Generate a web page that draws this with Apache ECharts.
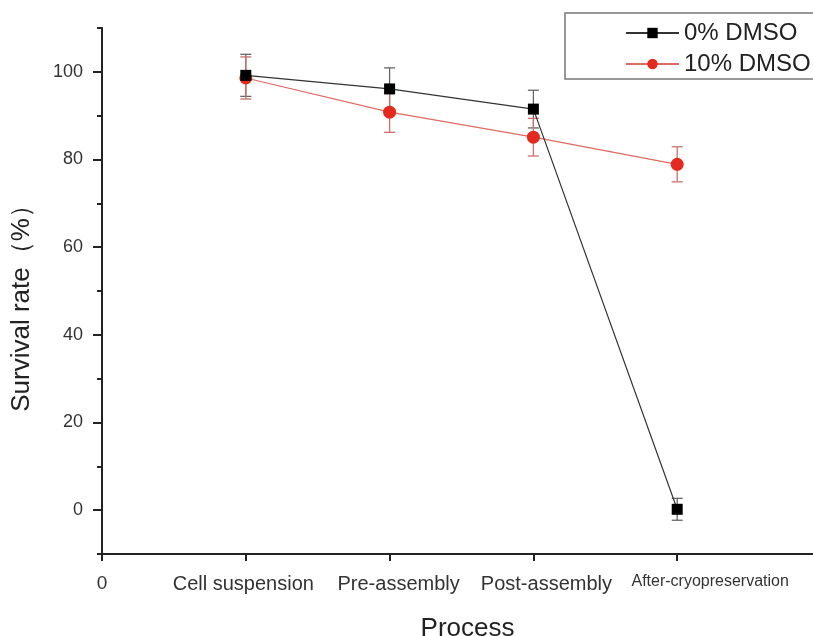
<!DOCTYPE html>
<html>
<head>
<meta charset="utf-8">
<script src="https://cdn.jsdelivr.net/npm/echarts@6/dist/echarts.min.js"></script>
<style>
  html, body { margin: 0; padding: 0; background: #fff; }
  #main { width: 813px; height: 636px; }
</style>
</head>
<body>
<div id="main"></div>
<script>
// x positions of the four process steps (0 is the axis origin)
var xLabels = ['0', 'Cell suspension', 'Pre-assembly', 'Post-assembly', 'After-cryopreservation'];
var xTicks = [0, 1, 2, 3, 4];

var yMajorTicks = [0, 20, 40, 60, 80, 100];
var yMinorTicks = [-10, 10, 30, 50, 70, 90, 110];

// survival rate (%) and error (±) per step
var dmso0 = [99.2, 96.1, 91.5, 0.2];
var dmso0Err = [4.8, 4.8, 4.3, 2.5];
var dmso10 = [98.6, 90.8, 85.1, 78.9];
var dmso10Err = [4.8, 4.6, 4.3, 4.0];

var font = 'Liberation Sans, Arial, sans-serif';

function points(vals) {
  return vals.map(function (v, i) { return [xTicks[i + 1], v]; });
}
function errPoints(vals, errs) {
  return vals.map(function (v, i) { return [xTicks[i + 1], v, errs[i]]; });
}

function errorBars(color) {
  return function (params, api) {
    var x = api.value(0), y = api.value(1), e = api.value(2);
    var top = api.coord([x, y + e]);
    var bot = api.coord([x, y - e]);
    var w = 5.5;
    var st = { stroke: color, lineWidth: 1.3 };
    return {
      type: 'group',
      children: [
        { type: 'line', shape: { x1: top[0], y1: top[1], x2: bot[0], y2: bot[1] }, style: st },
        { type: 'line', shape: { x1: top[0] - w, y1: top[1], x2: top[0] + w, y2: top[1] }, style: st },
        { type: 'line', shape: { x1: bot[0] - w, y1: bot[1], x2: bot[0] + w, y2: bot[1] }, style: st }
      ]
    };
  };
}

// in the original the tick labels sit a little right of their ticks
var labelRich = {
  l0: { fontSize: 19, color: '#333', padding: [0, 0, 0, 0] },
  l1: { fontSize: 20, color: '#333', padding: [0, 5, 0, 0] },
  l2: { fontSize: 20, color: '#333', padding: [0, 0, 0, 18] },
  l3: { fontSize: 20, color: '#333', padding: [0, 0, 0, 26] },
  l4: { fontSize: 16, color: '#333', padding: [0, 0, 0, 66] }
};

var chart = echarts.init(document.getElementById('main'));

var option = {
  animation: false,
  textStyle: { fontFamily: font },
  grid: { left: 102, top: 28, bottom: 82, right: -8, containLabel: false, outerBoundsMode: 'none' },
  legend: {
    orient: 'vertical',
    left: 565,
    top: 13,
    padding: [8, 300, 3, 60],
    itemGap: 7,
    itemWidth: 53,
    itemHeight: 13,
    borderColor: '#777',
    borderWidth: 1.5,
    textStyle: { fontSize: 24, color: '#222', fontFamily: font },
    data: ['0% DMSO', '10% DMSO']
  },
  xAxis: [{
    type: 'value',
    min: 0,
    max: 5,
    name: 'Process',
    nameLocation: 'middle',
    nameGap: 62,
    nameTextStyle: { fontSize: 26, color: '#222', fontFamily: font, padding: [0, 0, 0, 12] },
    splitLine: { show: false },
    axisLine: { onZero: false, lineStyle: { color: '#222', width: 2 } },
    axisTick: { customValues: xTicks, length: 7, lineStyle: { color: '#222', width: 2 } },
    axisLabel: {
      customValues: xTicks,
      hideOverlap: false,
      showMinLabel: true,
      showMaxLabel: true,
      margin: 20,
      fontSize: 20,
      color: '#333',
      formatter: function (v) {
        var i = xTicks.indexOf(v);
        if (i < 0) return '';
        return '{l' + i + '|' + xLabels[i] + '}';
      },
      rich: labelRich
    }
  }],
  yAxis: [{
    type: 'value',
    min: -10,
    max: 110,
    name: 'Survival rate（%）',
    nameLocation: 'middle',
    nameGap: 67,
    nameTextStyle: { fontSize: 26, color: '#222', fontFamily: font, padding: [0, 22, 0, 0] },
    splitLine: { show: false },
    axisLine: { lineStyle: { color: '#222', width: 2 } },
    axisTick: { customValues: yMajorTicks, length: 9, lineStyle: { color: '#222', width: 2 } },
    axisLabel: { customValues: yMajorTicks, margin: 19, fontSize: 18, color: '#333' }
  }, {
    type: 'value',
    min: -10,
    max: 110,
    position: 'left',
    splitLine: { show: false },
    axisLine: { show: false },
    axisTick: { customValues: yMinorTicks, length: 5, lineStyle: { color: '#222', width: 2 } },
    axisLabel: { show: false }
  }],
  series: [
    {
      name: '0% DMSO',
      type: 'line',
      data: points(dmso0),
      symbol: 'rect',
      symbolSize: 11,
      z: 4,
      itemStyle: { color: '#000' },
      lineStyle: { color: '#333', width: 1.2 }
    },
    {
      name: '10% DMSO',
      type: 'line',
      data: points(dmso10),
      symbol: 'circle',
      symbolSize: 13,
      z: 3,
      itemStyle: { color: '#e42a1f' },
      lineStyle: { color: '#e06a62', width: 1.2 }
    },
    {
      type: 'custom',
      renderItem: errorBars('#666'),
      data: errPoints(dmso0, dmso0Err),
      z: 2,
      silent: true
    },
    {
      type: 'custom',
      renderItem: errorBars('#c9716b'),
      data: errPoints(dmso10, dmso10Err),
      z: 2,
      silent: true
    }
  ]
};

chart.setOption(option);
</script>
</body>
</html>
